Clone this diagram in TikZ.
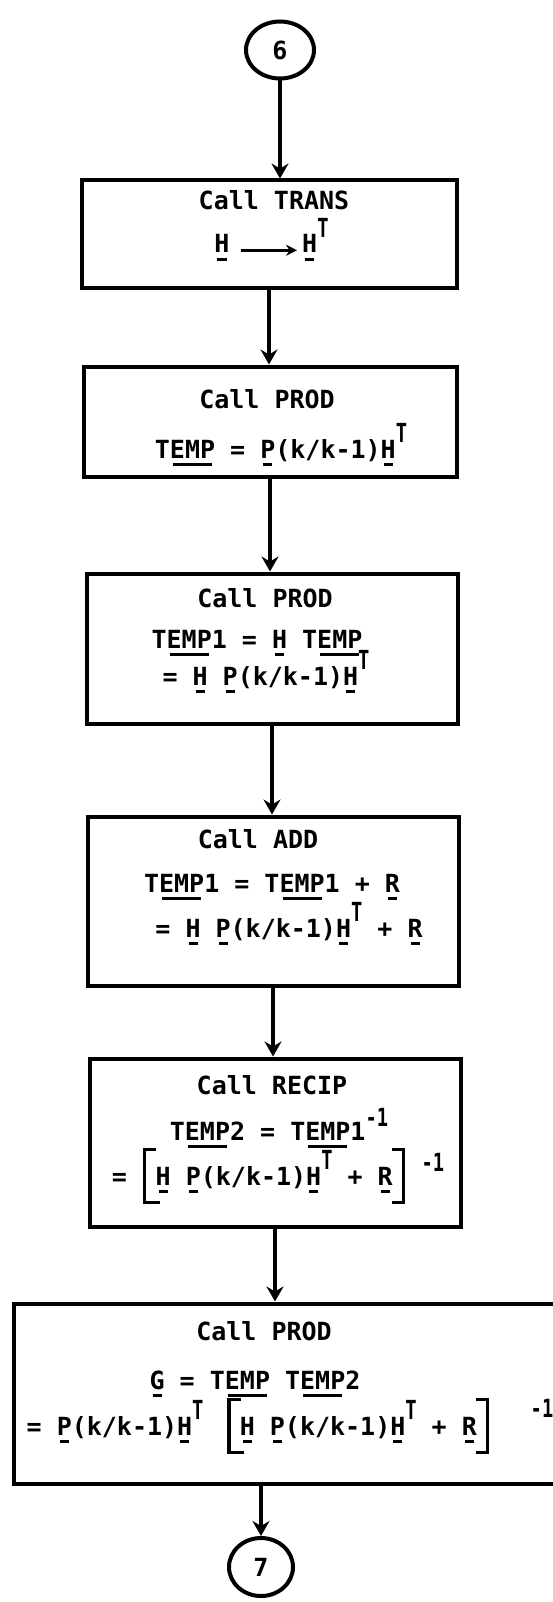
\documentclass[tikz,border=0pt]{standalone}
\usepackage{fontspec}
\usepackage{graphicx}
\setmainfont{DejaVu Sans Mono}
\usetikzlibrary{arrows.meta,shapes.geometric}
\newlength{\ulw}
\newcommand{\uln}[1]{\settowidth{\ulw}{#1}\rlap{\hspace{0.12em}\rule[-0.32em]{\dimexpr\ulw-0.24em\relax}{0.12em}}#1}
\newcommand{\spT}[1]{\raisebox{0.62em}{\scalebox{0.75}[1.05]{#1}}}
\newcommand{\spR}[2]{\raisebox{#1}{\scalebox{0.75}[1]{#2}}}
\newcommand{\lbk}{\makebox[0.55em][l]{\hspace{0.05em}\rule[-0.75em]{0.13em}{2.25em}\rlap{\rule[1.37em]{0.4em}{0.13em}}\rlap{\rule[-0.75em]{0.55em}{0.13em}}}}
\newcommand{\rbk}{\makebox[0.55em][r]{\llap{\rule[1.37em]{0.4em}{0.13em}}\llap{\rule[-0.75em]{0.4em}{0.13em}}\rule[-0.75em]{0.13em}{2.25em}\hspace{0.05em}}}
\begin{document}
\begin{tikzpicture}[x=1pt,y=-1pt,
  every node/.style={font=\fontsize{25}{30}\selectfont\bfseries},
  boxnode/.style={draw,line width=4pt,rectangle,inner sep=0pt},
  txt/.style={anchor=base,inner sep=0pt},
  flow/.style={line width=4pt,-{Stealth[length=15pt,width=17pt,inset=5pt]}},
  conn/.style={ellipse,draw,line width=4pt,inner sep=0pt}]
\useasboundingbox (0,0) rectangle (553,1602);
\fill[white] (0,0) rectangle (553,1602);
\clip (0,0) rectangle (553,1602);
% connectors (circles)
\node[conn,minimum width=68pt,minimum height=57pt] (c6) at (280,50) {6};
\node[conn,minimum width=64pt,minimum height=58pt] (c7) at (261,1567) {\raisebox{-6pt}{7}};
% boxes
\node[boxnode,minimum width=375pt,minimum height=108pt] (b1) at (269,234.5) {};
\node[boxnode,minimum width=373pt,minimum height=110pt] (b2) at (270,421.5) {};
\node[boxnode,minimum width=371pt,minimum height=150pt] (b3) at (272,648.5) {};
\node[boxnode,minimum width=371pt,minimum height=169pt] (b4) at (273,901) {};
\node[boxnode,minimum width=371pt,minimum height=168pt] (b5) at (275,1142.5) {};
\node[boxnode,minimum width=605pt,minimum height=180pt] (b6) at (316,1393.5) {};
% box texts
\node[txt] (t1a) at (274,210) {Call TRANS};
\node[txt] (h1) at (222,253) {\uln{H}};
\node[txt,anchor=base west] (h2) at (302,253) {\uln{H}\spT{T}};
\draw[line width=3pt,-{Stealth[length=11pt,width=11pt]}] ([xshift=11pt]h1.mid east) -- ([xshift=-5pt]h2.mid west);
\node[txt] (t2a) at (267,408) {Call PROD};
\node[txt] (t2b) at (281,458) {T\uln{EMP} = \uln{P}(k/k-1)\uln{H}\spT{T}};
\node[txt] (t3a) at (265,607) {Call PROD};
\node[txt] (t3b) at (257,648) {T\uln{EMP}1 = \uln{H} T\uln{EMP}};
\node[txt] (t3c) at (266,685) {= \uln{H} \uln{P}(k/k-1)\uln{H}\spT{T}};
\node[txt] (t4a) at (258,848) {Call ADD};
\node[txt] (t4b) at (272,892) {T\uln{EMP}1 = T\uln{EMP}1 + \uln{R}};
\node[txt] (t4c) at (289,937) {= \uln{H} \uln{P}(k/k-1)\uln{H}\spT{T} + \uln{R}};
\node[txt] (t5a) at (272,1094) {Call RECIP};
\node[txt] (t5b) at (279,1140) {T\uln{EMP}2 = T\uln{EMP}1\spR{0.55em}{-1}};
\node[txt] (t5c) at (278,1185) {= \lbk\uln{H} \uln{P}(k/k-1)\uln{H}\spT{T} + \uln{R}\rbk\ \spR{0.55em}{-1}};
\node[txt] (t6a) at (264,1340) {Call PROD};
\node[txt] (t6b) at (255,1389) {\uln{G} = T\uln{EMP} T\uln{EMP}2};
\node[txt] (t6c) at (290,1435) {= \uln{P}(k/k-1)\uln{H}\spT{T}\hspace{0.3em} \lbk\uln{H} \uln{P}(k/k-1)\uln{H}\spT{T} + \uln{R}\rbk\ \ \hspace{0.4em}\spR{0.7em}{-1}};
% flow arrows
\draw[flow] (c6.south) -- (c6.south |- b1.north);
\draw[flow] (b1.south) -- (b1.south |- b2.north);
\draw[flow] (b2.south) -- (b2.south |- b3.north);
\draw[flow] (b3.south) -- (b3.south |- b4.north);
\draw[flow] (b4.south) -- (b4.south |- b5.north);
\draw[flow] (b5.south) -- (b5.south |- b6.north);
\draw[flow] (c7.north |- b6.south) -- (c7.north);
\end{tikzpicture}
\end{document}
